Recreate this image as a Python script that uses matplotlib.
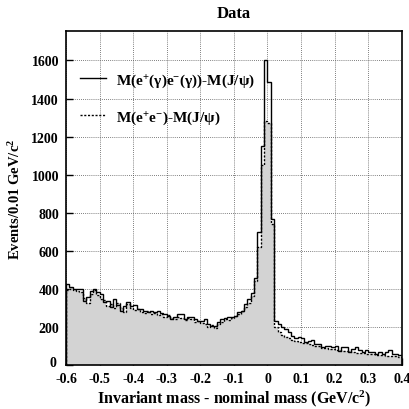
import numpy as np
import matplotlib
matplotlib.use('Agg')
import matplotlib.pyplot as plt
import matplotlib.transforms as mtransforms

# bin edges: 0.01 GeV/c^2 bins from -0.6 to 0.4
edges = np.round(np.linspace(-0.6, 0.4, 101), 3)

# M(e+(gamma)e-(gamma)) - M(J/psi), solid histogram
solid = [426, 410, 400, 400, 402, 338, 357, 391, 400, 383,
         373, 330, 338, 305, 345, 315, 286, 310, 330, 312,
         315, 293, 293, 286, 278, 286, 278, 286, 275, 268,
         259, 242, 252, 268, 268, 242, 252, 252, 242, 233,
         233, 242, 216, 207, 207, 225, 242, 245, 252, 252,
         259, 278, 286, 321, 347, 380, 460, 700, 1150, 1600,
         1487, 768, 233, 216, 200, 189, 172, 154, 142, 147,
         142, 119, 128, 133, 110, 110, 93, 101, 101, 93,
         98, 75, 93, 93, 70, 85, 93, 80, 70, 80,
         70, 70, 60, 70, 60, 70, 80, 60, 58, 53]

# M(e+e-) - M(J/psi), dotted histogram with grey fill
dotted = [395, 400, 395, 390, 385, 355, 325, 375, 395, 370,
          345, 340, 310, 320, 300, 325, 300, 280, 320, 300,
          290, 295, 280, 275, 285, 270, 275, 265, 268, 255,
          262, 245, 240, 255, 250, 238, 245, 240, 228, 232,
          220, 215, 200, 212, 195, 215, 228, 240, 238, 250,
          258, 270, 285, 305, 325, 365, 440, 620, 1050, 1280,
          1270, 740, 200, 175, 160, 150, 140, 130, 125, 120,
          115, 118, 110, 105, 100, 98, 92, 88, 85, 86,
          80, 78, 75, 72, 74, 68, 66, 65, 62, 60,
          58, 56, 55, 54, 52, 50, 50, 48, 46, 45]

xticks = [-0.6, -0.5, -0.4, -0.3, -0.2, -0.1, 0, 0.1, 0.2, 0.3, 0.4]
xticklabels = ['-0.6', '-0.5', '-0.4', '-0.3', '-0.2', '-0.1', '0', '0.1', '0.2', '0.3', '0.4']
yticks = [0, 200, 400, 600, 800, 1000, 1200, 1400, 1600]

plt.rcParams['font.family'] = ['Liberation Serif', 'DejaVu Serif']
plt.rcParams['font.weight'] = 'bold'
plt.rcParams['mathtext.fontset'] = 'custom'
plt.rcParams['mathtext.rm'] = 'Liberation Serif:bold'
plt.rcParams['mathtext.it'] = 'Liberation Serif:bold'
plt.rcParams['mathtext.bf'] = 'Liberation Serif:bold'
plt.rcParams['mathtext.default'] = 'rm'

fig = plt.figure(figsize=(4.1, 4.1), dpi=100)
ax = fig.add_axes([0.161, 0.107, 0.819, 0.815])

# grid behind the fill
ax.set_axisbelow(True)
ax.grid(True, linestyle=(0, (1, 1.5)), color='#555555', linewidth=0.6)

ax.stairs(dotted, edges, fill=True, color='#d3d3d3', zorder=2)
ax.stairs(dotted, edges, color='black', linestyle=(0, (1.5, 1.2)), linewidth=1.0, zorder=3,
          label=r'M(e$^{+}$e$^{-}$)-M(J/ψ)')
ax.stairs(solid, edges, color='black', linewidth=1.0, zorder=4,
          label=r'M(e$^{+}$(γ)e$^{-}$(γ))-M(J/ψ)')

ax.set_xlim(-0.6, 0.4)
ax.set_ylim(0, 1755)
ax.set_xticks(xticks)
ax.set_xticklabels(xticklabels)
ax.set_yticks(yticks)
ax.tick_params(direction='in', length=5, width=1, labelsize=10, right=False, top=False)
ax.tick_params(axis='x', pad=5)
ax.tick_params(axis='y', pad=5)
for lab in ax.get_xticklabels() + ax.get_yticklabels():
    lab.set_fontweight('bold')
# lift the "0" label a little so it clears "-0.6"
ylab0 = ax.get_yticklabels()[0]
ylab0.set_transform(ylab0.get_transform() +
                    mtransforms.ScaledTranslation(-2 / 72, 3 / 72, fig.dpi_scale_trans))
for s in ax.spines.values():
    s.set_linewidth(1.2)

handles, labels = ax.get_legend_handles_labels()
ax.legend(handles[::-1], labels[::-1], loc='upper left', frameon=False,
          handlelength=1.7, labelspacing=1.3, handletextpad=0.7,
          bbox_to_anchor=(0.0, 0.92), prop={'weight': 'bold', 'size': 11})

ax.set_title('Data', fontsize=12, fontweight='bold', pad=10)
ax.set_xlabel(r'Invariant mass - nominal mass (GeV/c$^{2}$)', fontsize=11.5, fontweight='bold', labelpad=2)
ax.set_ylabel(r'Events/0.01 GeV/c$^{2}$', fontsize=10.5, fontweight='bold', labelpad=6)

fig.savefig('out.png', dpi=100)
